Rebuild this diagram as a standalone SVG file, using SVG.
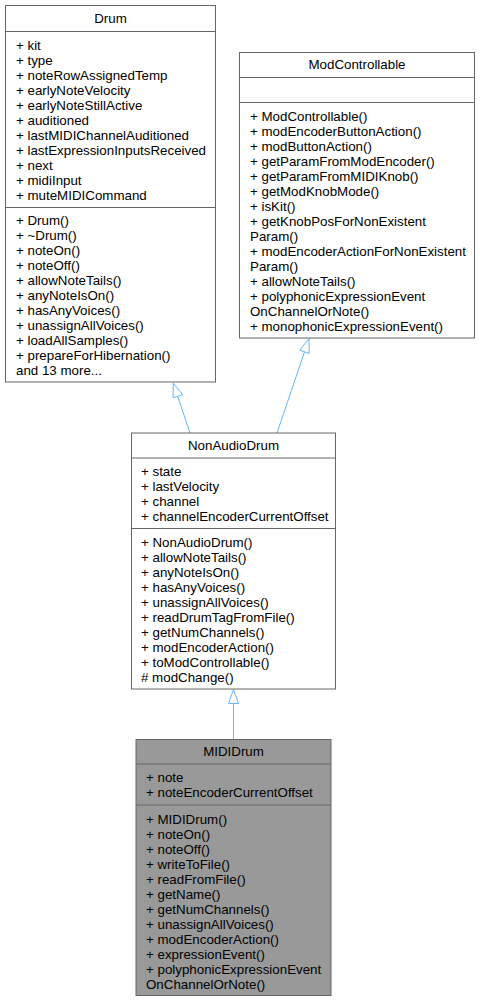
<svg xmlns="http://www.w3.org/2000/svg" width="480" height="1002" viewBox="0 0 480 1002">
<style>
.t{font-family:"Liberation Sans",Arial,Helvetica,sans-serif;font-size:13.33px;fill:#000}
.c{text-anchor:middle}
.box{fill:#fff;stroke:#666;stroke-width:1}
.hl{fill:#999;stroke:#666;stroke-width:1}
.sep{stroke:#666;stroke-width:1}
.edge{stroke:#63b8ff;stroke-width:1;fill:none}
.head{stroke:#63b8ff;stroke-width:1;fill:#fff}
</style>
<rect width="480" height="1002" fill="#fff"/>
<g id="edges">
  <line class="edge" x1="190" y1="433" x2="177.7" y2="396.3"/>
  <polygon class="head" points="173.3,383 182.5,394.7 173,397.9"/>
  <line class="edge" x1="277" y1="433" x2="304.5" y2="351.8"/>
  <polygon class="head" points="309,338.5 309.2,353.4 299.8,350.2"/>
  <line class="edge" x1="233.5" y1="739" x2="233.5" y2="703.5"/>
  <polygon class="head" points="233.5,689.5 238.5,703.5 228.5,703.5"/>
</g>
<g id="node-drum">
  <rect class="box" x="5.5" y="5.5" width="210" height="376.5"/>
  <line class="sep" x1="5.5" y1="31.5" x2="215.5" y2="31.5"/>
  <line class="sep" x1="5.5" y1="207.5" x2="215.5" y2="207.5"/>
  <text class="t c" x="110.5" y="22.7">Drum</text>
  <text class="t" x="16" y="49.7">+ kit</text>
  <text class="t" x="16" y="64.7">+ type</text>
  <text class="t" x="16" y="79.7">+ noteRowAssignedTemp</text>
  <text class="t" x="16" y="94.7">+ earlyNoteVelocity</text>
  <text class="t" x="16" y="109.7">+ earlyNoteStillActive</text>
  <text class="t" x="16" y="124.7">+ auditioned</text>
  <text class="t" x="16" y="139.7">+ lastMIDIChannelAuditioned</text>
  <text class="t" x="16" y="154.7">+ lastExpressionInputsReceived</text>
  <text class="t" x="16" y="169.7">+ next</text>
  <text class="t" x="16" y="184.7">+ midiInput</text>
  <text class="t" x="16" y="199.7">+ muteMIDICommand</text>
  <text class="t" x="16" y="225.2">+ Drum()</text>
  <text class="t" x="16" y="240.2">+ ~Drum()</text>
  <text class="t" x="16" y="255.2">+ noteOn()</text>
  <text class="t" x="16" y="270.2">+ noteOff()</text>
  <text class="t" x="16" y="285.2">+ allowNoteTails()</text>
  <text class="t" x="16" y="300.2">+ anyNoteIsOn()</text>
  <text class="t" x="16" y="315.2">+ hasAnyVoices()</text>
  <text class="t" x="16" y="330.2">+ unassignAllVoices()</text>
  <text class="t" x="16" y="345.2">+ loadAllSamples()</text>
  <text class="t" x="16" y="360.2">+ prepareForHibernation()</text>
  <text class="t" x="16" y="375.2">and 13 more...</text>
</g>
<g id="node-modcontrollable">
  <rect class="box" x="239.5" y="52.5" width="235" height="285.5"/>
  <line class="sep" x1="239.5" y1="77.5" x2="474.5" y2="77.5"/>
  <line class="sep" x1="239.5" y1="102.5" x2="474.5" y2="102.5"/>
  <text class="t c" x="357" y="69.2">ModControllable</text>
  <text class="t" x="250" y="120.7">+ ModControllable()</text>
  <text class="t" x="250" y="135.7">+ modEncoderButtonAction()</text>
  <text class="t" x="250" y="150.7">+ modButtonAction()</text>
  <text class="t" x="250" y="165.7">+ getParamFromModEncoder()</text>
  <text class="t" x="250" y="180.7">+ getParamFromMIDIKnob()</text>
  <text class="t" x="250" y="195.7">+ getModKnobMode()</text>
  <text class="t" x="250" y="210.7">+ isKit()</text>
  <text class="t" x="250" y="225.7">+ getKnobPosForNonExistent</text>
  <text class="t" x="250" y="240.7">Param()</text>
  <text class="t" x="250" y="255.7">+ modEncoderActionForNonExistent</text>
  <text class="t" x="250" y="270.7">Param()</text>
  <text class="t" x="250" y="285.7">+ allowNoteTails()</text>
  <text class="t" x="250" y="300.7">+ polyphonicExpressionEvent</text>
  <text class="t" x="250" y="315.7">OnChannelOrNote()</text>
  <text class="t" x="250" y="330.7">+ monophonicExpressionEvent()</text>
</g>
<g id="node-nonaudiodrum">
  <rect class="box" x="131.5" y="433" width="204" height="256"/>
  <line class="sep" x1="131.5" y1="458" x2="335.5" y2="458"/>
  <line class="sep" x1="131.5" y1="528.5" x2="335.5" y2="528.5"/>
  <text class="t c" x="233.5" y="449.7">NonAudioDrum</text>
  <text class="t" x="141" y="476.2">+ state</text>
  <text class="t" x="141" y="491.2">+ lastVelocity</text>
  <text class="t" x="141" y="506.2">+ channel</text>
  <text class="t" x="141" y="521.2">+ channelEncoderCurrentOffset</text>
  <text class="t" x="141" y="547.2">+ NonAudioDrum()</text>
  <text class="t" x="141" y="562.2">+ allowNoteTails()</text>
  <text class="t" x="141" y="577.2">+ anyNoteIsOn()</text>
  <text class="t" x="141" y="592.2">+ hasAnyVoices()</text>
  <text class="t" x="141" y="607.2">+ unassignAllVoices()</text>
  <text class="t" x="141" y="622.2">+ readDrumTagFromFile()</text>
  <text class="t" x="141" y="637.2">+ getNumChannels()</text>
  <text class="t" x="141" y="652.2">+ modEncoderAction()</text>
  <text class="t" x="141" y="667.2">+ toModControllable()</text>
  <text class="t" x="141" y="682.2"># modChange()</text>
</g>
<g id="node-mididrum">
  <rect class="hl" x="136" y="739.5" width="195" height="256"/>
  <line class="sep" x1="136" y1="764" x2="331" y2="764"/>
  <line class="sep" x1="136" y1="805" x2="331" y2="805"/>
  <text class="t c" x="233.5" y="756.2">MIDIDrum</text>
  <text class="t" x="146" y="782.2">+ note</text>
  <text class="t" x="146" y="797.2">+ noteEncoderCurrentOffset</text>
  <text class="t" x="146" y="824.2">+ MIDIDrum()</text>
  <text class="t" x="146" y="839.2">+ noteOn()</text>
  <text class="t" x="146" y="854.2">+ noteOff()</text>
  <text class="t" x="146" y="869.2">+ writeToFile()</text>
  <text class="t" x="146" y="884.2">+ readFromFile()</text>
  <text class="t" x="146" y="899.2">+ getName()</text>
  <text class="t" x="146" y="914.2">+ getNumChannels()</text>
  <text class="t" x="146" y="929.2">+ unassignAllVoices()</text>
  <text class="t" x="146" y="944.2">+ modEncoderAction()</text>
  <text class="t" x="146" y="959.2">+ expressionEvent()</text>
  <text class="t" x="146" y="974.2">+ polyphonicExpressionEvent</text>
  <text class="t" x="146" y="989.2">OnChannelOrNote()</text>
</g>
</svg>
